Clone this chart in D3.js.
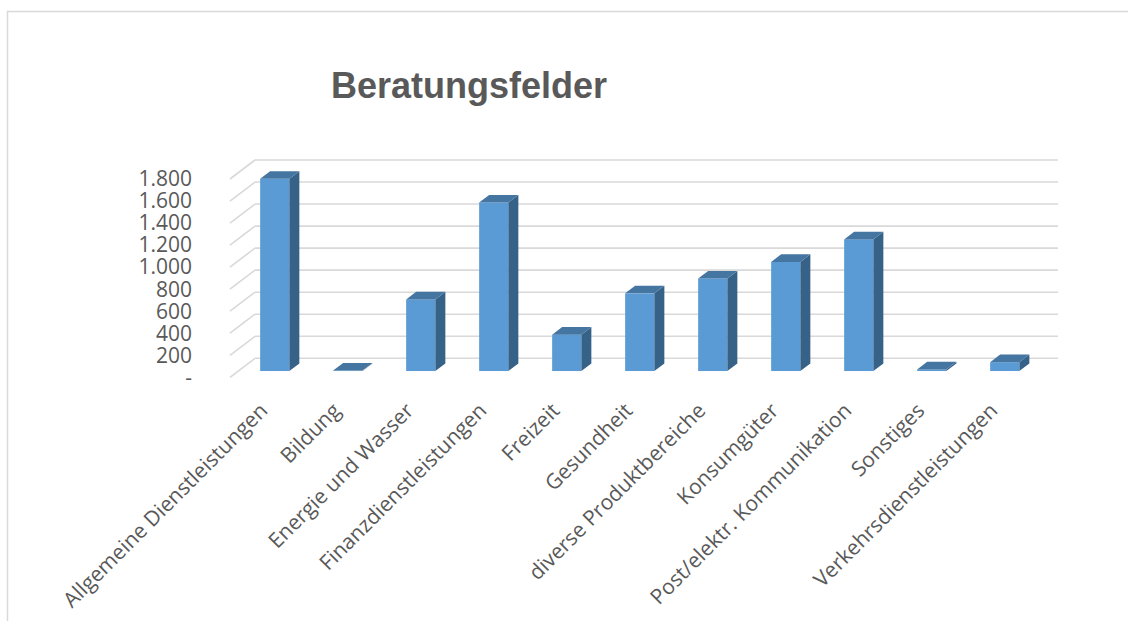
<!DOCTYPE html>
<html>
<head>
<meta charset="utf-8">
<script src="https://cdn.jsdelivr.net/npm/d3@7"></script>
<style>
	body { margin: 0; background: #fff; }
	text { font-family: "Open Sans", "Noto Sans", sans-serif; fill: #595959; }
</style>
</head>
<body>
<script>
var categories = ['Allgemeine Dienstleistungen', 'Bildung', 'Energie und Wasser', 'Finanzdienstleistungen',
	'Freizeit', 'Gesundheit', 'diverse Produktbereiche', 'Konsumgüter', 'Post/elektr. Kommunikation',
	'Sonstiges', 'Verkehrsdienstleistungen'];
var values = [1745, 5, 650, 1530, 330, 705, 840, 990, 1195, 15, 80];
var yTicks = [0, 200, 400, 600, 800, 1000, 1200, 1400, 1600, 1800];
var title = 'Beratungsfelder';

var width = 1128,
	height = 621,
	floorDx = -25, floorDy = 19,   // back wall -> front edge of floor
	barFront = 0.67, barBack = 0.27; // depth of the bar faces, as share of the floor

var de = d3.formatLocale({ decimal: ',', thousands: '.', grouping: [3], currency: ['', ' €'] });
var fmt = de.format(',');

var svg = d3.select('body').append('svg')
	.attr('width', width)
	.attr('height', height);

// chart frame
svg.append('rect')
	.attr('x', 7.5).attr('y', 11.5)
	.attr('width', width + 20).attr('height', height + 20)
	.attr('fill', '#fff')
	.attr('stroke', '#d9d9d9')
	.attr('stroke-width', 1.5);

svg.append('text')
	.attr('x', 469)
	.attr('y', 98)
	.attr('text-anchor', 'middle')
	.style('font-family', 'Arial, "Liberation Sans", sans-serif')
	.style('font-weight', 'bold')
	.style('font-size', '36px')
	.text(title);

// back wall scales
var x = d3.scaleBand()
	.domain(categories)
	.range([255, 1058]);

var y = d3.scaleLinear()
	.domain([0, 1800])
	.range([358.3, 160]);

// gridlines on back wall + diagonal on side
var grid = svg.append('g').attr('class', 'grid')
	.attr('stroke', '#d9d9d9')
	.attr('stroke-width', 1.6);

grid.selectAll('.h')
	.data(yTicks)
	.enter().append('line')
	.attr('x1', x.range()[0]).attr('x2', x.range()[1])
	.attr('y1', function (d) { return y(d); })
	.attr('y2', function (d) { return y(d); });

grid.selectAll('.d')
	.data(yTicks)
	.enter().append('line')
	.attr('x1', x.range()[0]).attr('x2', x.range()[0] + floorDx)
	.attr('y1', function (d) { return y(d); })
	.attr('y2', function (d) { return y(d) + floorDy; });

// y axis labels (front edge)
svg.append('g')
	.selectAll('text')
	.data(yTicks)
	.enter().append('text')
	.attr('x', 192)
	.attr('y', function (d) { return y(d) + floorDy; })
	.attr('dy', '0.35em')
	.attr('text-anchor', 'end')
	.style('font-size', '21px')
	.text(function (d) { return d === 0 ? '-' : fmt(d); });

// bars
var barW = x.bandwidth() * 0.4,
	ddx = (barBack - barFront) * floorDx,
	ddy = (barBack - barFront) * floorDy;

function frontX(d) { return x(d) + x.bandwidth() / 2 + barFront * floorDx - barW / 2; }
function frontY(v) { return y(v) + barFront * floorDy; }

var bars = svg.append('g').attr('class', 'bars')
	.selectAll('g')
	.data(categories.map(function (c, i) { return { cat: c, value: values[i] }; }))
	.enter().append('g');

bars.append('rect')
	.attr('x', function (d) { return frontX(d.cat); })
	.attr('y', function (d) { return frontY(d.value); })
	.attr('width', barW)
	.attr('height', function (d) { return frontY(0) - frontY(d.value); })
	.attr('fill', '#5b9bd5');

bars.append('path')
	.attr('fill', '#376288')
	.attr('d', function (d) {
		var xr = frontX(d.cat) + barW, yt = frontY(d.value), yb = frontY(0);
		return 'M' + xr + ',' + yt + 'L' + (xr + ddx) + ',' + (yt + ddy) +
			'L' + (xr + ddx) + ',' + (yb + ddy) + 'L' + xr + ',' + yb + 'Z';
	});

bars.append('path')
	.attr('fill', '#4575a1')
	.attr('d', function (d) {
		var xl = frontX(d.cat), xr = xl + barW, yt = frontY(d.value);
		return 'M' + xl + ',' + yt + 'L' + xr + ',' + yt +
			'L' + (xr + ddx) + ',' + (yt + ddy) + 'L' + (xl + ddx) + ',' + (yt + ddy) + 'Z';
	});

// category labels, rotated
svg.append('g')
	.selectAll('text')
	.data(categories)
	.enter().append('text')
	.attr('transform', function (d) {
		var cx = frontX(d) + barW / 2 - 6;
		return 'translate(' + cx + ',412) rotate(-45)';
	})
	.attr('text-anchor', 'end')
	.style('font-size', '21px')
	.text(function (d) { return d; });
</script>
</body>
</html>
